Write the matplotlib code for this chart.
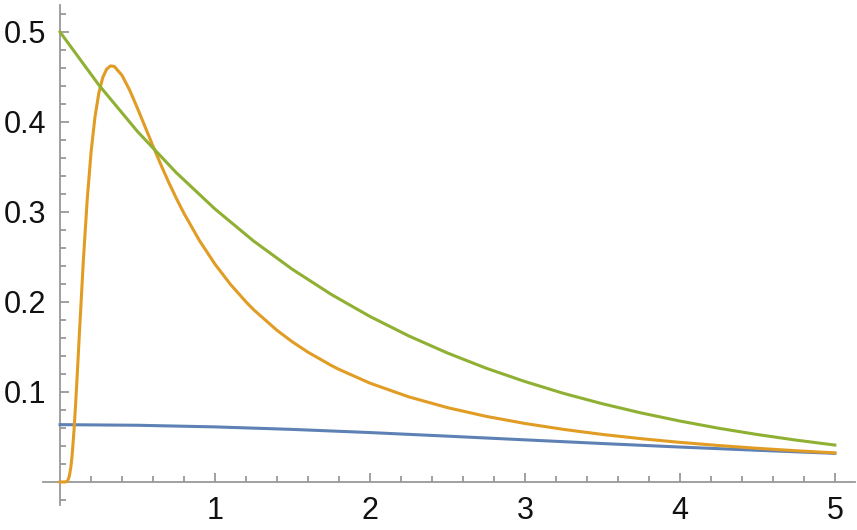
import matplotlib.pyplot as plt
from matplotlib.ticker import FixedLocator

plt.rcParams['font.family'] = ['Liberation Sans', 'DejaVu Sans']

# values
blue_x = [0, 0.5, 1, 1.5, 2, 2.5, 3, 3.5, 4, 4.5, 5]
blue_y = [0.0637, 0.0630, 0.0612, 0.0584, 0.0549, 0.0509, 0.0468, 0.0427, 0.0388, 0.0352, 0.0318]

orange_x = [0, 0.02, 0.03, 0.04, 0.05, 0.06, 0.07, 0.075, 0.08, 0.09, 0.1, 0.11, 0.125, 0.15,
            0.175, 0.2, 0.225, 0.25, 0.275, 0.3, 0.325, 0.35, 0.4, 0.45, 0.5, 0.55, 0.6, 0.65,
            0.7, 0.75, 0.8, 0.9, 1.0, 1.1, 1.2, 1.25, 1.4, 1.5, 1.6, 1.75, 1.8, 2, 2.25, 2.5,
            2.75, 3, 3.25, 3.5, 3.75, 4, 4.25, 4.5, 4.75, 5]
orange_y = [0, 0, 0, 0.0002, 0.0016, 0.0065, 0.0170, 0.0247, 0.0340, 0.0571, 0.0850, 0.1160,
            0.1653, 0.2449, 0.3130, 0.3661, 0.4050, 0.4319, 0.4491, 0.4586, 0.4623, 0.4618,
            0.4518, 0.4351, 0.4151, 0.3941, 0.3731, 0.3528, 0.3334, 0.3153, 0.2984, 0.2681,
            0.2420, 0.2195, 0.2001, 0.1913, 0.1685, 0.1556, 0.1442, 0.1295, 0.1251, 0.1098,
            0.0946, 0.0826, 0.0729, 0.0650, 0.0584, 0.0528, 0.0481, 0.0440, 0.0405, 0.0374,
            0.0347, 0.0323]

green_x = [0, 0.25, 0.5, 0.75, 1, 1.25, 1.5, 1.75, 2, 2.25, 2.5, 2.75, 3, 3.25, 3.5, 3.75,
           4, 4.25, 4.5, 4.75, 5]
green_y = [0.5, 0.4412, 0.3894, 0.3437, 0.3033, 0.2676, 0.2362, 0.2084, 0.1839, 0.1623,
           0.1433, 0.1264, 0.1116, 0.0984, 0.0869, 0.0767, 0.0677, 0.0597, 0.0527, 0.0465,
           0.0410]

x_ticks = [1, 2, 3, 4, 5]
y_ticks = [0.1, 0.2, 0.3, 0.4, 0.5]

fig = plt.figure(figsize=(8.57, 5.30), dpi=100)
ax = fig.add_axes([43 / 857, 25 / 530, 812 / 857, 500 / 530])

ax.plot(blue_x, blue_y, color='#5E81B5', lw=2.2, zorder=3)
ax.plot(orange_x, orange_y, color='#E19C24', lw=2.2, zorder=4)
ax.plot(green_x, green_y, color='#8FB032', lw=2.2, zorder=5)

ax.set_xlim(-0.11, 5.13)
ax.set_ylim(-0.0256, 0.53)

# mathematica style axes crossing at the origin
for side in ['top', 'right']:
    ax.spines[side].set_visible(False)
for side in ['left', 'bottom']:
    ax.spines[side].set_position(('data', 0))
    ax.spines[side].set_color('#999999')
    ax.spines[side].set_linewidth(1.3)

ax.set_xticks(x_ticks)
ax.set_xticklabels([str(t) for t in x_ticks])
ax.set_yticks(y_ticks)
ax.set_yticklabels([str(t) for t in y_ticks])
ax.xaxis.set_minor_locator(FixedLocator([i * 0.2 for i in range(1, 26) if i % 5]))
ax.yaxis.set_minor_locator(FixedLocator([i * 0.02 for i in range(-1, 27) if i % 5]))

ax.tick_params(which='both', direction='in', color='#999999', width=1.3, labelsize=22,
               labelcolor='#111111')
ax.tick_params(which='major', length=6.5)
ax.tick_params(which='minor', length=4)
ax.tick_params(axis='y', pad=10)
ax.tick_params(axis='x', pad=10)

fig.savefig('out.png', dpi=100)
